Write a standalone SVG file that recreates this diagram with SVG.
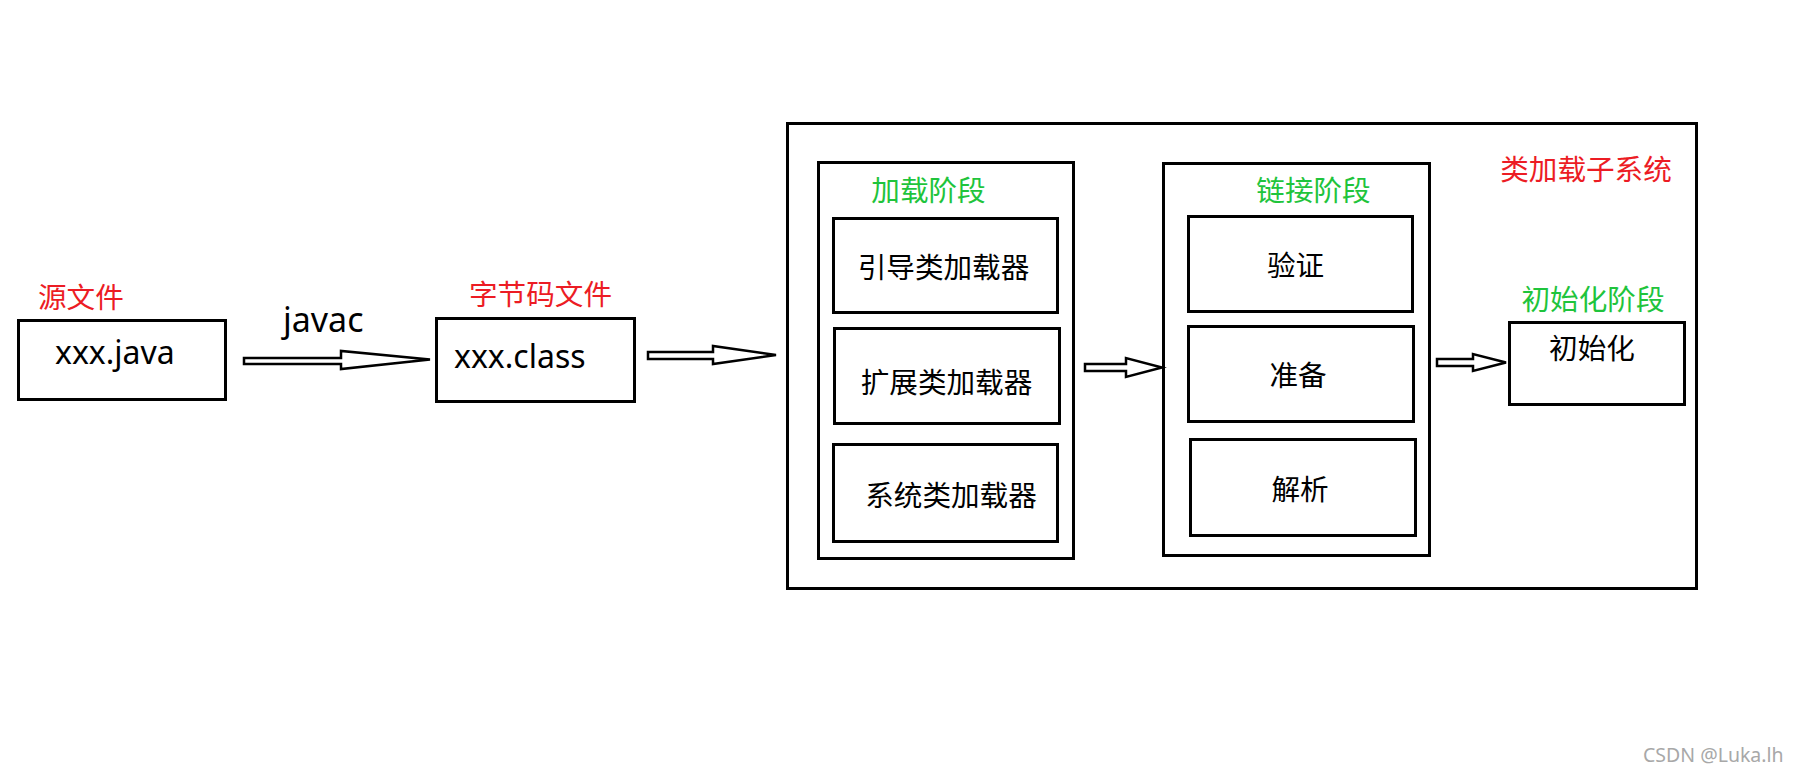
<svg xmlns="http://www.w3.org/2000/svg" width="1795" height="773" viewBox="0 0 1795 773">
  <style>
    .box { fill: none; stroke: #000; stroke-width: 3; }
    .arrow { fill: #fff; stroke: #000; stroke-width: 2.5; stroke-linejoin: miter; }
    .cjk { font-family: "Noto Sans CJK SC", "Noto Sans", sans-serif; font-size: 28.6px; }
    .lat { font-family: "Noto Sans", "Open Sans", sans-serif; font-size: 32px; fill: #000; }
    .red { fill: #ec1c24; }
    .green { fill: #1fc43c; }
    .black { fill: #000; }
    .mid { text-anchor: middle; }
  </style>
  <rect width="1795" height="773" fill="#fff"/>

  <!-- source file -->
  <g id="source">
    <text class="cjk red" x="38" y="308">源文件</text>
    <rect class="box" x="18.5" y="320.5" width="207" height="79"/>
    <text class="lat" x="55" y="364">xxx.java</text>
  </g>

  <!-- bytecode file -->
  <g id="bytecode">
    <text class="cjk red" x="469" y="305">字节码文件</text>
    <rect class="box" x="436.5" y="318.5" width="198" height="83"/>
    <text class="lat" x="454" y="368">xxx.class</text>
  </g>

  <!-- class loader subsystem -->
  <g id="subsystem">
    <rect class="box" x="787.5" y="123.5" width="909" height="465"/>
    <text class="cjk red mid" x="1586" y="180">类加载子系统</text>
  </g>

  <!-- loading phase -->
  <g id="loading">
    <rect class="box" x="818.5" y="162.5" width="255" height="396"/>
    <text class="cjk green mid" x="928.5" y="201">加载阶段</text>
  </g>
  <g id="bootstrap">
    <rect class="box" x="833.5" y="218.5" width="224" height="94"/>
    <text class="cjk black mid" x="943.5" y="278">引导类加载器</text>
  </g>
  <g id="extension">
    <rect class="box" x="834.5" y="328.5" width="225" height="95"/>
    <text class="cjk black mid" x="946.5" y="393">扩展类加载器</text>
  </g>
  <g id="system">
    <rect class="box" x="833.5" y="444.5" width="224" height="97"/>
    <text class="cjk black mid" x="951" y="506">系统类加载器</text>
  </g>

  <!-- linking phase -->
  <g id="linking">
    <rect class="box" x="1163.5" y="163.5" width="266" height="392"/>
    <text class="cjk green mid" x="1313.5" y="201">链接阶段</text>
  </g>
  <g id="verify">
    <rect class="box" x="1188.5" y="216.5" width="224" height="95"/>
    <text class="cjk black mid" x="1295.5" y="276">验证</text>
  </g>
  <g id="prepare">
    <rect class="box" x="1188.5" y="326.5" width="225" height="95"/>
    <text class="cjk black mid" x="1298" y="386">准备</text>
  </g>
  <g id="resolve">
    <rect class="box" x="1190.5" y="439.5" width="225" height="96"/>
    <text class="cjk black mid" x="1300" y="500">解析</text>
  </g>

  <!-- initialization phase -->
  <g id="init">
    <text class="cjk green mid" x="1593" y="310">初始化阶段</text>
    <rect class="box" x="1509.5" y="322.5" width="175" height="82"/>
    <text class="cjk black mid" x="1592" y="359">初始化</text>
  </g>

  <!-- connectors -->
  <g id="connectors">
    <text class="lat" x="283" y="332" style="font-size:34px">javac</text>
    <polygon class="arrow" points="244,358 341,358 341,351 430,359.5 341,369 341,364 244,364"/>
    <polygon class="arrow" points="648,352 713,352 713,346 776,355 713,364 713,359 648,359"/>
    <polygon class="arrow" points="1085,364 1126,364 1126,358 1162,367.5 1126,377 1126,371 1085,371"/>
    <polygon class="arrow" points="1437,359 1473,359 1473,354 1506,362.5 1473,371 1473,366 1437,366"/>
  </g>

  <text x="1643" y="762" style="font-family:'Noto Sans','Open Sans',sans-serif;font-size:19.5px;fill:#a8a8a8">CSDN @Luka.lh</text>
</svg>
